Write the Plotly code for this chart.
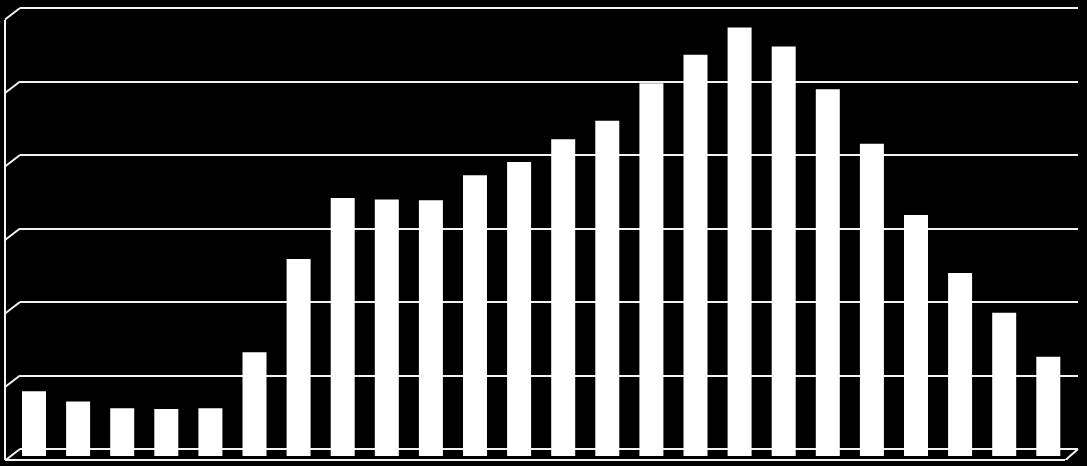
import plotly.graph_objects as go

# ---- data (gridline interval = 10 units) ----
hours = [f"{h:02d}:00" for h in range(24)]
values = [8.8, 7.4, 6.5, 6.4, 6.5, 14.1, 26.8, 35.1, 34.9, 34.8, 38.2, 40.0,
          43.1, 45.6, 50.7, 54.6, 58.3, 55.7, 49.9, 42.5, 32.8, 24.9, 19.5, 13.5]
grid_ticks = [0, 10, 20, 30, 40, 50, 60]

W, H = 1087, 466
PX_PER_UNIT = 7.35          # pixels per value unit
TOP_PX, BOT_PX = 2, 460     # plot-area top / bottom in pixels
BAR_BASE_PX = 456           # where bars start (front)
WALL_BASE_PX = 449          # back-wall floor line
FRONT_X, WALL_X, RIGHT_X, FLOOR_RIGHT_X = 5, 20, 1078, 1065
SPACING = 44.1
FIRST_CENTER = 34

def py(px):
    return 1 - px / H

def px_x(px):
    return px / W

ydom = [py(BOT_PX), py(TOP_PX)]
grid_range = [-(BOT_PX - WALL_BASE_PX) / PX_PER_UNIT, (WALL_BASE_PX - TOP_PX) / PX_PER_UNIT]
bar_range = [-(BOT_PX - BAR_BASE_PX) / PX_PER_UNIT, (BAR_BASE_PX - TOP_PX) / PX_PER_UNIT]
x_range = [(FRONT_X - FIRST_CENTER) / SPACING, (RIGHT_X - FIRST_CENTER) / SPACING]

fig = go.Figure()
# back wall gridlines live on subplot xy (drawn first / beneath)
fig.add_trace(go.Scatter(x=[], y=[], xaxis="x", yaxis="y", showlegend=False, hoverinfo="skip"))
# bars on subplot x2y2 (drawn above the gridlines)
fig.add_trace(go.Bar(x=hours, y=values, xaxis="x2", yaxis="y2",
                     marker=dict(color="#ffffff", line=dict(width=0)),
                     showlegend=False))

line_style = dict(color="#f2f2f2", width=2)
shapes = []
# front-left vertical edge
shapes.append(dict(type="line", xref="paper", yref="paper",
                   x0=px_x(FRONT_X), x1=px_x(FRONT_X), y0=py(BOT_PX), y1=py(20), line=line_style))
# side-wall diagonals for each gridline
dz = 11.5 / PX_PER_UNIT
for g in grid_ticks:
    shapes.append(dict(type="line", xref="paper", yref="y",
                       x0=px_x(FRONT_X), x1=px_x(WALL_X), y0=g - dz, y1=g, line=line_style))
# front floor edge and right diagonal
shapes.append(dict(type="line", xref="paper", yref="paper",
                   x0=px_x(FRONT_X), x1=px_x(FLOOR_RIGHT_X), y0=py(BOT_PX), y1=py(BOT_PX), line=line_style))
shapes.append(dict(type="line", xref="paper", yref="y",
                   x0=px_x(FLOOR_RIGHT_X), x1=px_x(RIGHT_X), y0=-dz, y1=0, line=line_style))

fig.update_layout(
    width=W, height=H,
    margin=dict(l=0, r=0, t=0, b=0),
    paper_bgcolor="#000000",
    plot_bgcolor="rgba(0,0,0,0)",
    bargap=0.456,
    shapes=shapes,
    xaxis=dict(domain=[px_x(WALL_X), px_x(RIGHT_X)], range=[0, 1], visible=False,
               showgrid=False, zeroline=False, anchor="y"),
    yaxis=dict(domain=ydom, range=grid_range, tickvals=grid_ticks, showticklabels=False,
               ticks="", showgrid=True, gridcolor="#f2f2f2", gridwidth=2,
               zeroline=False, showline=False, anchor="x"),
    xaxis2=dict(domain=[px_x(FRONT_X), px_x(RIGHT_X)], range=x_range, type="category",
                showticklabels=False, ticks="", showgrid=False, zeroline=False,
                showline=False, anchor="y2"),
    yaxis2=dict(domain=ydom, range=bar_range, showticklabels=False, ticks="",
                showgrid=False, zeroline=False, showline=False, anchor="x2"),
)

fig.write_html("out.html",
               config={"displayModeBar": False},
               post_script="document.body.style.margin='0';document.body.style.background='#000';")
